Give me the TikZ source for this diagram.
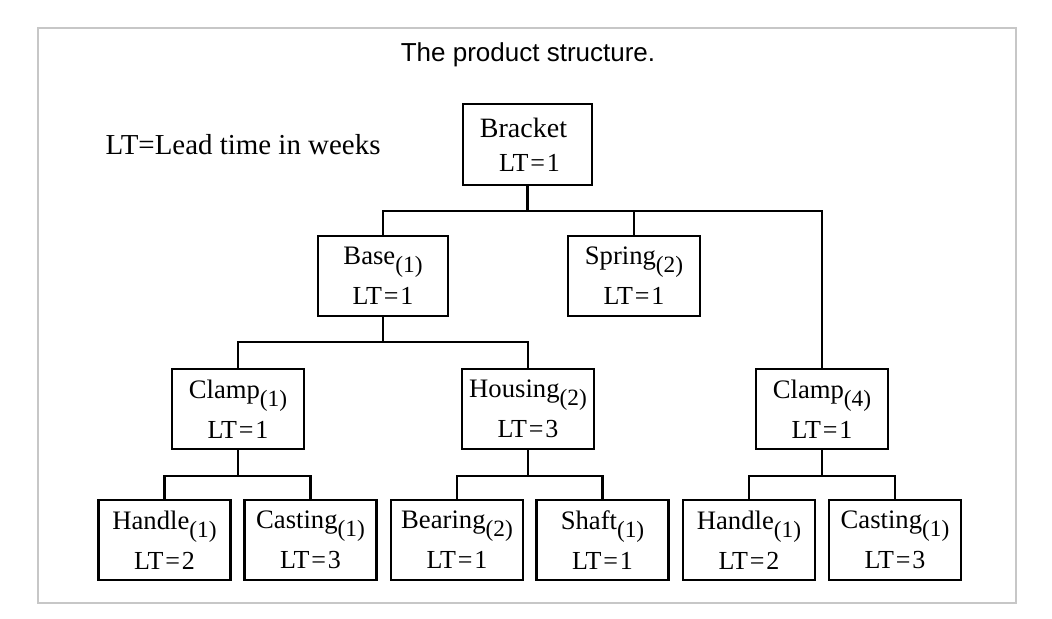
\documentclass[tikz,border=0pt]{standalone}
\usepackage{fontspec}
\setmainfont{Liberation Serif}
\newfontfamily\titlefont{Liberation Sans}
\newcommand{\qty}[1]{\raisebox{-0.3em}{\fontsize{17.5}{17.5}\selectfont #1}}
\newcommand{\lt}[1]{{\fontsize{19.5}{30}\selectfont LT\kern1.4pt=\kern1.4pt#1}}
\begin{document}
\begin{tikzpicture}[x=0.75pt,y=-0.75pt,
  part/.style={draw,line width=1.8pt,minimum width=99pt,minimum height=60pt,inner sep=0pt,align=center,
    font=\fontsize{20}{30}\selectfont},
  link/.style={line width=1.6pt},
  frame/.style={draw=black!22,line width=1.5pt}]
\useasboundingbox (0,0) rectangle (1052,618);
\fill[white] (0,0) rectangle (1052,618);
\draw[frame] (38,28) rectangle (1016,603);
\node (title) at (528,55) {\titlefont\fontsize{19.5}{22}\selectfont The product structure.};
\node[anchor=west] (legend) at (101,145) {\fontsize{21.7}{24}\selectfont LT=Lead time in weeks};
% level 0
\node[part,minimum width=97pt,minimum height=61pt,font=\fontsize{21}{25.5}\selectfont] (br) at (527.5,144.5) {\hspace*{-6pt}Bracket\\\hspace*{3pt}\lt{1}};
% level 1
\node[part,minimum width=97.5pt] (base) at (383,276) {Base\qty{(1)}\\\lt{1}};
\node[part] (sp) at (634,276) {Spring\qty{(2)}\\\lt{1}};
% level 2
\node[part] (c1) at (238,409) {Clamp\qty{(1)}\\\lt{1}};
\node[part] (ho) at (528,409) {Housing\qty{(2)}\\\lt{3}};
\node[part] (c4) at (822,409) {Clamp\qty{(4)}\\\lt{1}};
% level 3
\node[part] (h1) at (164.5,540) {Handle\qty{(1)}\\\lt{2}};
\node[part] (k1) at (310.5,540) {Casting\qty{(1)}\\\lt{3}};
\node[part] (be) at (457,540) {Bearing\qty{(2)}\\\lt{1}};
\node[part] (sh) at (602.5,540) {Shaft\qty{(1)}\\\lt{1}};
\node[part] (h2) at (749,540) {Handle\qty{(1)}\\\lt{2}};
\node[part] (k2) at (895,540) {Casting\qty{(1)}\\\lt{3}};
% buses
\coordinate (b1) at (0,211);
\coordinate (b2) at (0,342);
\coordinate (b3) at (0,476);
% bracket
\draw[link] (br.south) -- (br.south |- b1);
\draw[link] (base.north) |- (c4.north |- b1) -- (c4.north);
\draw[link] (sp.north) -- (sp.north |- b1);
% base
\draw[link] (base.south) -- (base.south |- b2);
\draw[link] (c1.north) |- (ho.north |- b2) -- (ho.north);
% clamp 1
\draw[link] (c1.south) -- (c1.south |- b3);
\draw[link] (h1.north) |- (k1.north |- b3) -- (k1.north);
% housing
\draw[link] (ho.south) -- (ho.south |- b3);
\draw[link] (be.north) |- (sh.north |- b3) -- (sh.north);
% clamp 4
\draw[link] (c4.south) -- (c4.south |- b3);
\draw[link] (h2.north) |- (k2.north |- b3) -- (k2.north);
\end{tikzpicture}
\end{document}
